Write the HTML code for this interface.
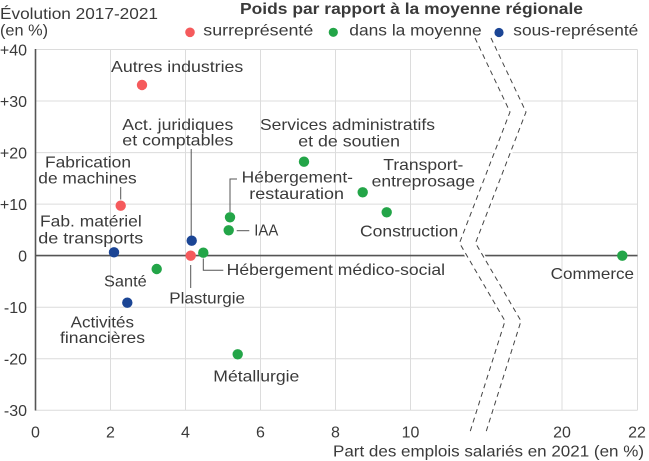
<!DOCTYPE html>
<html><head><meta charset="utf-8"><style>
html,body{margin:0;padding:0;background:#fff;}
svg{display:block;}
text{font-family:"Liberation Sans","DejaVu Sans",sans-serif;fill:#3a3a3a;font-size:16px;}
</style></head><body>
<svg width="649" height="461" viewBox="0 0 649 461" xmlns="http://www.w3.org/2000/svg">
<!-- gridlines -->
<g stroke="#dcdcdc" stroke-width="1">
<line x1="35.5" y1="49.5" x2="637.5" y2="49.5"/>
<line x1="35.5" y1="101" x2="637.5" y2="101"/>
<line x1="35.5" y1="152.6" x2="637.5" y2="152.6"/>
<line x1="35.5" y1="204.1" x2="637.5" y2="204.1"/>
<line x1="35.5" y1="307.2" x2="637.5" y2="307.2"/>
<line x1="35.5" y1="358.7" x2="637.5" y2="358.7"/>
<line x1="35.5" y1="410.3" x2="637.5" y2="410.3"/>
<line x1="110.5" y1="49.5" x2="110.5" y2="410.3"/>
<line x1="185.5" y1="49.5" x2="185.5" y2="410.3"/>
<line x1="260.5" y1="49.5" x2="260.5" y2="410.3"/>
<line x1="335.5" y1="49.5" x2="335.5" y2="410.3"/>
<line x1="410.5" y1="49.5" x2="410.5" y2="410.3"/>
<line x1="562" y1="49.5" x2="562" y2="410.3"/>
<line x1="637.5" y1="49.5" x2="637.5" y2="410.3"/>
</g>
<!-- zero line & y axis -->
<line x1="35.5" y1="255.6" x2="637.5" y2="255.6" stroke="#555" stroke-width="1.6"/>
<line x1="35.5" y1="49" x2="35.5" y2="410.5" stroke="#555" stroke-width="1.6"/>
<!-- break white fill -->
<polygon points="475,38 510,112 459.5,243 505,321 470,432 486,432 521,321 475.5,243 526,112 491,38" fill="#fff" stroke="#fff" stroke-width="4" stroke-linejoin="round"/>
<g fill="none" stroke="#444" stroke-width="1" stroke-dasharray="5,4">
<polyline points="475,38 510,112 459.5,243 505,321 470,432"/>
<polyline points="491,38 526,112 475.5,243 521,321 486,432"/>
</g>
<!-- title -->
<text x="0" y="19" font-size="16.5" textLength="158" lengthAdjust="spacingAndGlyphs">Évolution 2017-2021</text>
<text x="0" y="35.5" font-size="16.5" textLength="48" lengthAdjust="spacingAndGlyphs">(en %)</text>
<!-- legend -->
<text x="240" y="14" font-size="16.5" font-weight="bold" textLength="343" lengthAdjust="spacingAndGlyphs">Poids par rapport à la moyenne régionale</text>
<circle cx="190" cy="32.3" r="4.8" fill="#f55a5c"/>
<text x="203.3" y="35.7" textLength="110" lengthAdjust="spacingAndGlyphs">surreprésenté</text>
<circle cx="333.3" cy="32.3" r="4.6" fill="#23a548"/>
<text x="349.3" y="35.7" textLength="132.4" lengthAdjust="spacingAndGlyphs">dans la moyenne</text>
<circle cx="499" cy="32.5" r="4.6" fill="#1b4595"/>
<text x="513.3" y="35.7" textLength="125" lengthAdjust="spacingAndGlyphs">sous-représenté</text>
<!-- y ticks -->
<g text-anchor="end">
<text x="27" y="55.5">+40</text>
<text x="27" y="107">+30</text>
<text x="27" y="158.5">+20</text>
<text x="27" y="210">+10</text>
<text x="27" y="261.5">0</text>
<text x="27" y="313">-10</text>
<text x="27" y="364.5">-20</text>
<text x="27" y="416">-30</text>
</g>
<!-- x ticks -->
<g text-anchor="middle">
<text x="35.5" y="437.5">0</text>
<text x="110.5" y="437.5">2</text>
<text x="185.5" y="437.5">4</text>
<text x="260.5" y="437.5">6</text>
<text x="335.5" y="437.5">8</text>
<text x="410.5" y="437.5">10</text>
<text x="562" y="437.5">20</text>
<text x="637" y="437.5">22</text>
</g>
<text x="333" y="456.5" textLength="311" lengthAdjust="spacingAndGlyphs">Part des emplois salariés en 2021 (en %)</text>
<!-- leader lines -->
<g stroke="#555" stroke-width="1" fill="none">
<line x1="120.7" y1="187" x2="120.7" y2="199.5"/>
<line x1="191.2" y1="149" x2="191.2" y2="236"/>
<polyline points="230,212 230,179 237,179"/>
<line x1="236.7" y1="230.7" x2="249.3" y2="230.7"/>
<polyline points="203.3,258.5 203.3,270.3 223.3,270.3"/>
<line x1="190.7" y1="265" x2="190.7" y2="288"/>
</g>
<!-- labels -->
<text x="111" y="72" textLength="132.3" lengthAdjust="spacingAndGlyphs">Autres industries</text>
<text x="122.3" y="130" textLength="111" lengthAdjust="spacingAndGlyphs">Act. juridiques</text>
<text x="122.3" y="145.7" textLength="111" lengthAdjust="spacingAndGlyphs">et comptables</text>
<text x="260" y="130" textLength="175" lengthAdjust="spacingAndGlyphs">Services administratifs</text>
<text x="298.3" y="146.7" textLength="101.7" lengthAdjust="spacingAndGlyphs">et de soutien</text>
<text x="45" y="167.3" textLength="86" lengthAdjust="spacingAndGlyphs">Fabrication</text>
<text x="38.3" y="183.3" textLength="98.4" lengthAdjust="spacingAndGlyphs">de machines</text>
<text x="383.3" y="170" textLength="80" lengthAdjust="spacingAndGlyphs">Transport-</text>
<text x="371.7" y="186.7" textLength="103.3" lengthAdjust="spacingAndGlyphs">entreprosage</text>
<text x="241.7" y="182.3" textLength="111.3" lengthAdjust="spacingAndGlyphs">Hébergement-</text>
<text x="249.3" y="199" textLength="94.7" lengthAdjust="spacingAndGlyphs">restauration</text>
<text x="40" y="226.7" textLength="101.7" lengthAdjust="spacingAndGlyphs">Fab. matériel</text>
<text x="38.3" y="243.3" textLength="105" lengthAdjust="spacingAndGlyphs">de transports</text>
<text x="254.3" y="235.7" textLength="24" lengthAdjust="spacingAndGlyphs">IAA</text>
<text x="360" y="236.7" textLength="98.3" lengthAdjust="spacingAndGlyphs">Construction</text>
<text x="226.7" y="275" textLength="218.3" lengthAdjust="spacingAndGlyphs">Hébergement médico-social</text>
<text x="550.7" y="279" textLength="83.3" lengthAdjust="spacingAndGlyphs">Commerce</text>
<text x="104" y="286.7" textLength="42.7" lengthAdjust="spacingAndGlyphs">Santé</text>
<text x="169.3" y="303.3" textLength="75.7" lengthAdjust="spacingAndGlyphs">Plasturgie</text>
<text x="70.7" y="327.7" textLength="63.3" lengthAdjust="spacingAndGlyphs">Activités</text>
<text x="60" y="343" textLength="85" lengthAdjust="spacingAndGlyphs">financières</text>
<text x="213.3" y="381.7" textLength="86" lengthAdjust="spacingAndGlyphs">Métallurgie</text>
<!-- dots -->
<g fill="#23a548">
<circle cx="156.7" cy="269" r="5.2"/>
<circle cx="203.3" cy="252.7" r="5.2"/>
<circle cx="228.7" cy="230.3" r="5.2"/>
<circle cx="230" cy="217.3" r="5.2"/>
<circle cx="304" cy="161.7" r="5.2"/>
<circle cx="362.7" cy="192.3" r="5.2"/>
<circle cx="386.7" cy="212.3" r="5.2"/>
<circle cx="237.7" cy="354.3" r="5.2"/>
<circle cx="622.3" cy="255.7" r="5.2"/>
</g>
<g fill="#1b4595">
<circle cx="114" cy="252.3" r="5.2"/>
<circle cx="191.7" cy="240.7" r="5.2"/>
<circle cx="127.3" cy="302.7" r="5.2"/>
</g>
<g fill="#f55a5c">
<circle cx="142" cy="85" r="5.2"/>
<circle cx="120.7" cy="205.7" r="5.2"/>
<circle cx="190.7" cy="255.7" r="5.2"/>
</g>
</svg>
</body></html>
